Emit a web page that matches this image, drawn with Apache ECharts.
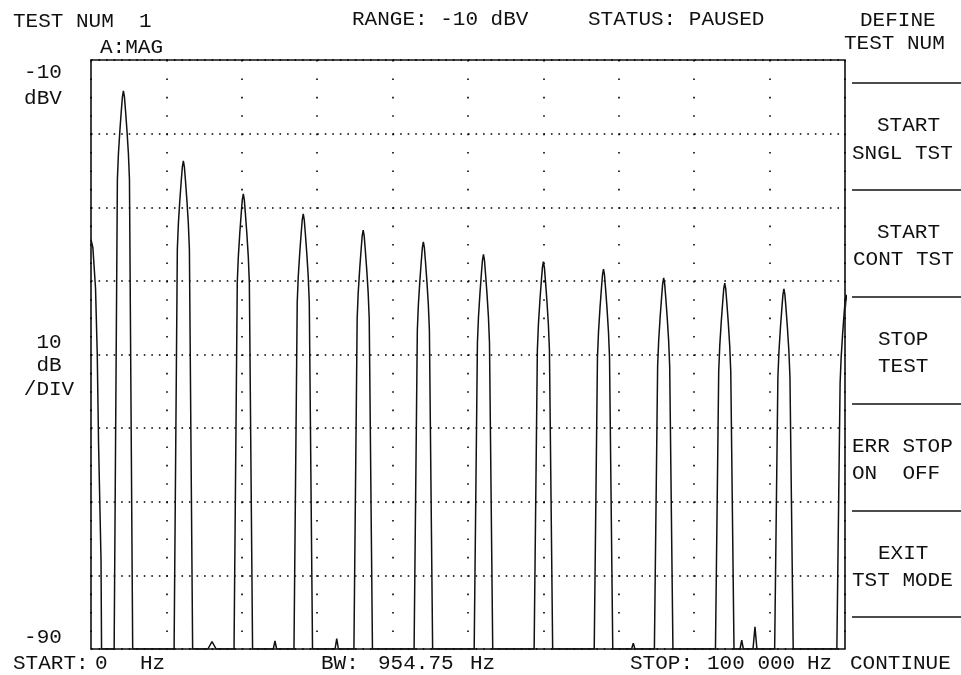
<!DOCTYPE html>
<html>
<head>
<meta charset="utf-8">
<title>TEST NUM 1 - A: MAG</title>
<script src="https://cdn.jsdelivr.net/npm/echarts@6/dist/echarts.min.js"></script>
<style>
  html, body { margin: 0; padding: 0; background: #fff; }
  #chart { width: 961px; height: 675px; }
</style>
</head>
<body>
<div id="chart"></div>
<script>
// Odd harmonics of the test tone: centre frequency (Hz) and peak level (dBV)
const peakFreqs  = [4300, 12250, 20200, 28150, 36100, 44080, 52050, 60000, 67970, 75950, 84050, 91900, 100150];
const peakLevels = [-14.2, -23.7, -28.2, -30.9, -33.1, -34.7, -36.4, -37.4, -38.4, -39.6, -40.3, -41.1, -41.9];

// Main-lobe shape shared by every harmonic: offset from centre (Hz) and level relative to the peak (dB)
const lobeOffsets = [-800, -660, -465, -265, -133, 0, 133, 265, 465, 660, 800];
const lobeDrops   = [-12, -8.5, -5.3, -2.5, -0.8, 0, -0.8, -2.5, -5.3, -8.5, -12];
const lobeBaseHz  = 1230;   // distance from centre where the lobe reaches the floor
const floorLevel  = -90;

// DC leakage at the left end of the span
const dcFreqs  = [0, 250, 600, 830, 1000, 1330, 1400];
const dcLevels = [-34.4, -35.5, -41, -50, -62, -78, -90];

// Small spurs sitting on the noise floor
const spurFreqs      = [16050, 24400, 32590, 71920, 86300, 88060];
const spurLevels     = [-89.0, -88.9, -88.6, -89.2, -88.8, -87.0];
const spurHalfWidths = [550, 220, 220, 220, 220, 260];

// Scale annotations on the left edge
const yTickValues = [-10, -90];
const yTickLabels = ['-10', '-90'];
const yUnitLabel  = 'dBV';
const scaleLabel  = ['10', 'dB', '/DIV'];

// Header / footer / softkey text
const headerItems = [
  { text: 'TEST NUM  1', x: 13, y: 21 },
  { text: 'A:MAG', x: 100, y: 47.5 },
  { text: 'RANGE: -10 dBV', x: 352, y: 19.5 },
  { text: 'STATUS: PAUSED', x: 588, y: 19.5 }
];
const footerItems = [
  { text: 'START:', x: 13 }, { text: '0', x: 95 }, { text: 'Hz', x: 140 },
  { text: 'BW:', x: 321 }, { text: '954.75', x: 378 }, { text: 'Hz', x: 470 },
  { text: 'STOP:', x: 630 }, { text: '100 000', x: 707 }, { text: 'Hz', x: 807 }
];
const softkeyItems = [
  { text: 'DEFINE', x: 860, y: 20.5 }, { text: 'TEST NUM', x: 844, y: 43.5 },
  { text: 'START', x: 877, y: 125 }, { text: 'SNGL TST', x: 852, y: 153 },
  { text: 'START', x: 877, y: 232 }, { text: 'CONT TST', x: 853, y: 259 },
  { text: 'STOP', x: 878, y: 339 }, { text: 'TEST', x: 878, y: 366 },
  { text: 'ERR STOP', x: 852, y: 446 }, { text: 'ON  OFF', x: 852, y: 473 },
  { text: 'EXIT', x: 878, y: 553 }, { text: 'TST MODE', x: 852, y: 580 },
  { text: 'CONTINUE', x: 850, y: 663 }
];
const softkeyDividers = [83, 190, 297, 404, 511, 617];

const FONT = '"Liberation Mono", "DejaVu Sans Mono", monospace';
const FONT_SIZE = 21;
const INK = '#111';

// Assemble the trace: DC leakage, then each harmonic lobe and spur in frequency order
const groups = [];
groups.push({ c: 0, pts: dcFreqs.map((f, i) => [f, dcLevels[i]]) });
peakFreqs.forEach((f, i) => {
  const pts = [[f - lobeBaseHz, floorLevel]];
  lobeOffsets.forEach((o, j) => pts.push([f + o, peakLevels[i] + lobeDrops[j]]));
  pts.push([f + lobeBaseHz, floorLevel]);
  groups.push({ c: f, pts });
});
spurFreqs.forEach((f, i) => {
  const w = spurHalfWidths[i];
  groups.push({ c: f, pts: [[f - w, floorLevel], [f, spurLevels[i]], [f + w, floorLevel]] });
});
groups.sort((a, b) => a.c - b.c);
const trace = [];
groups.forEach(g => g.pts.forEach(p => trace.push(p)));

const chart = echarts.init(document.getElementById('chart'), null, { renderer: 'canvas' });

const textEl = (t, x, y, align) => ({
  type: 'text', x, y, silent: true,
  style: {
    text: t, fill: INK, font: `${FONT_SIZE}px ${FONT}`,
    textAlign: align || 'left', textVerticalAlign: 'middle'
  }
});

const graphics = [];
headerItems.forEach(h => graphics.push(textEl(h.text, h.x, h.y)));
footerItems.forEach(h => graphics.push(textEl(h.text, h.x, 663)));
softkeyItems.forEach(h => graphics.push(textEl(h.text, h.x, h.y)));
scaleLabel.forEach((t, i) => graphics.push(textEl(t, 49, 342 + i * 23.5, 'center')));
softkeyDividers.forEach(y => graphics.push({
  type: 'line', silent: true,
  shape: { x1: 852, y1: y, x2: 961, y2: y },
  style: { stroke: INK, lineWidth: 1.5 }
}));

chart.setOption({
  animation: false,
  backgroundColor: '#fff',
  grid: {
    left: 91, top: 60, width: 754, height: 589,
    show: true, borderColor: INK, borderWidth: 1.6, backgroundColor: 'transparent'
  },
  xAxis: {
    type: 'value', min: 0, max: 100000, interval: 10000,
    axisLine: { show: false }, axisTick: { show: false }, axisLabel: { show: false },
    splitLine: {
      show: true,
      lineStyle: { color: '#000', width: 1.6, type: [1.6, 16.8] }
    }
  },
  yAxis: {
    type: 'value', min: -90, max: -10, interval: 10,
    axisLine: { show: false }, axisTick: { show: false },
    axisLabel: {
      show: true, margin: 48, align: 'center', verticalAlign: 'middle',
      color: INK, fontFamily: FONT, fontSize: FONT_SIZE,
      formatter: v => {
        const i = yTickValues.indexOf(v);
        if (i < 0) return '';
        if (i === 0) return `{gap| }\n{t|${yTickLabels[i]}}\n{t|${yUnitLabel}}`;
        return `{t|${yTickLabels[i]}}\n{gapB| }`;
      },
      rich: {
        t: { fontFamily: FONT, fontSize: FONT_SIZE, color: INK, lineHeight: 26, height: 26 },
        gap: { fontSize: 4, lineHeight: 50, height: 50 },
        gapB: { fontSize: 4, lineHeight: 24, height: 24 }
      }
    },
    splitLine: {
      show: true,
      lineStyle: { color: '#000', width: 1.6, type: [1.6, 5.94] }
    }
  },
  series: [{
    type: 'line',
    data: trace,
    clip: true,
    showSymbol: false,
    smooth: false,
    lineStyle: { color: INK, width: 1.5 }
  }],
  graphic: graphics
});
</script>
</body>
</html>
